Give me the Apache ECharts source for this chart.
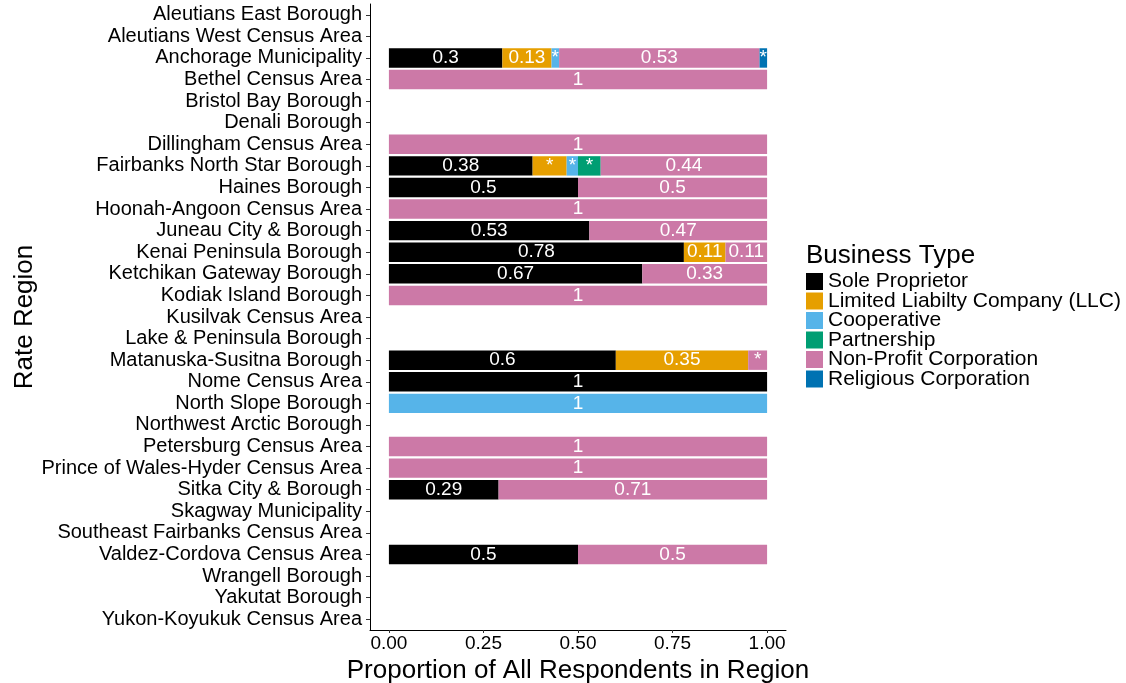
<!DOCTYPE html>
<html>
<head>
<meta charset="utf-8">
<script src="https://cdn.jsdelivr.net/npm/echarts@6/dist/echarts.min.js"></script>
<style>
  html, body { margin: 0; padding: 0; background: #fff; overflow: hidden; }
  #chart { width: 1126px; height: 683px; }
</style>
</head>
<body>
<div id="chart"></div>
<script>
// Rate regions, top to bottom
const regions = [
  'Aleutians East Borough', 'Aleutians West Census Area', 'Anchorage Municipality',
  'Bethel Census Area', 'Bristol Bay Borough', 'Denali Borough', 'Dillingham Census Area',
  'Fairbanks North Star Borough', 'Haines Borough', 'Hoonah-Angoon Census Area',
  'Juneau City & Borough', 'Kenai Peninsula Borough', 'Ketchikan Gateway Borough',
  'Kodiak Island Borough', 'Kusilvak Census Area', 'Lake & Peninsula Borough',
  'Matanuska-Susitna Borough', 'Nome Census Area', 'North Slope Borough',
  'Northwest Arctic Borough', 'Petersburg Census Area', 'Prince of Wales-Hyder Census Area',
  'Sitka City & Borough', 'Skagway Municipality', 'Southeast Fairbanks Census Area',
  'Valdez-Cordova Census Area', 'Wrangell Borough', 'Yakutat Borough', 'Yukon-Koyukuk Census Area'
];

// Proportion of respondents per business type, one entry per region (null = none)
const soleProprietor = [null, null, 0.3, null, null, null, null, 0.38, 0.5, null, 0.53, 0.78, 0.67, null, null, null, 0.6, 1, null, null, null, null, 0.29, null, null, 0.5, null, null, null];
const llc            = [null, null, 0.13, null, null, null, null, 0.09, null, null, null, 0.11, null, null, null, null, 0.35, null, null, null, null, null, null, null, null, null, null, null, null];
const cooperative    = [null, null, 0.02, null, null, null, null, 0.03, null, null, null, null, null, null, null, null, null, null, 1, null, null, null, null, null, null, null, null, null, null];
const partnership    = [null, null, null, null, null, null, null, 0.06, null, null, null, null, null, null, null, null, null, null, null, null, null, null, null, null, null, null, null, null, null];
const nonProfit      = [null, null, 0.53, 1, null, null, 1, 0.44, 0.5, 1, 0.47, 0.11, 0.33, 1, null, null, 0.05, null, null, null, 1, 1, 0.71, null, null, 0.5, null, null, null];
const religious      = [null, null, 0.02, null, null, null, null, null, null, null, null, null, null, null, null, null, null, null, null, null, null, null, null, null, null, null, null, null, null];

const xTicks = [0, 0.25, 0.5, 0.75, 1];

const seriesDefs = [
  { name: 'Sole Proprietor', data: soleProprietor, color: '#000000' },
  { name: 'Limited Liabilty Company (LLC)', data: llc, color: '#E69F00' },
  { name: 'Cooperative', data: cooperative, color: '#56B4E9' },
  { name: 'Partnership', data: partnership, color: '#009E73' },
  { name: 'Non-Profit Corporation', data: nonProfit, color: '#CC79A7' },
  { name: 'Religious Corporation', data: religious, color: '#0072B2' }
];

const FONT = '"Liberation Sans", Arial, sans-serif';

// Segments under 10% are too narrow for a number, so they get a star
const segmentLabel = p =>
  p.value == null ? '' : (p.value < 0.1 ? '*' : String(+p.value.toFixed(2)));

const chart = echarts.init(document.getElementById('chart'), null, { renderer: 'canvas' });

const option = {
  animation: false,
  backgroundColor: '#ffffff',
  textStyle: { fontFamily: FONT },
  grid: { left: 370, right: 340, top: 4, bottom: 53, containLabel: false, outerBoundsMode: 'none' },
  legend: {
    orient: 'vertical',
    left: 806,
    top: 271,
    padding: 0,
    itemWidth: 17,
    itemHeight: 17,
    itemGap: -1.5,
    icon: 'rect',
    selectedMode: false,
    textStyle: { fontFamily: FONT, fontSize: 21, color: '#000', padding: [0, 0, 0, 0] },
    data: seriesDefs.map(s => s.name)
  },
  xAxis: {
    type: 'value',
    min: -0.05,
    max: 1.05,
    splitLine: { show: false },
    axisLine: { show: true, onZero: false, lineStyle: { color: '#000', width: 1 } },
    axisTick: { show: true, length: 3, customValues: xTicks, lineStyle: { color: '#333' } },
    axisLabel: {
      customValues: xTicks,
      formatter: v => v.toFixed(2),
      fontFamily: FONT, fontSize: 19, color: '#000', margin: 4
    },
    name: 'Proportion of All Respondents in Region',
    nameLocation: 'middle',
    nameGap: 23,
    nameTextStyle: { fontFamily: FONT, fontSize: 26, color: '#000' }
  },
  yAxis: {
    type: 'category',
    inverse: true,
    data: regions,
    axisLine: { show: true, onZero: false, lineStyle: { color: '#000', width: 1 } },
    axisTick: { show: true, length: 4, alignWithLabel: true, lineStyle: { color: '#333' } },
    axisLabel: { fontFamily: FONT, fontSize: 20, color: '#000', margin: 8, interval: 0, padding: [3, 0, 0, 0] },
    name: 'Rate Region',
    nameLocation: 'middle',
    nameRotate: 90,
    nameGap: 332,
    nameTextStyle: { fontFamily: FONT, fontSize: 26, color: '#000' }
  },
  graphic: [{
    type: 'text',
    left: 806,
    top: 243,
    style: { text: 'Business Type', font: '26px ' + FONT, fill: '#000' }
  }],
  series: seriesDefs.map(s => ({
    name: s.name,
    type: 'bar',
    stack: 'total',
    barWidth: '90%',
    data: s.data,
    itemStyle: { color: s.color },
    label: {
      show: true,
      position: 'inside',
      color: '#fff',
      fontFamily: FONT,
      fontSize: 19,
      formatter: segmentLabel
    }
  }))
};

chart.setOption(option);
</script>
</body>
</html>
